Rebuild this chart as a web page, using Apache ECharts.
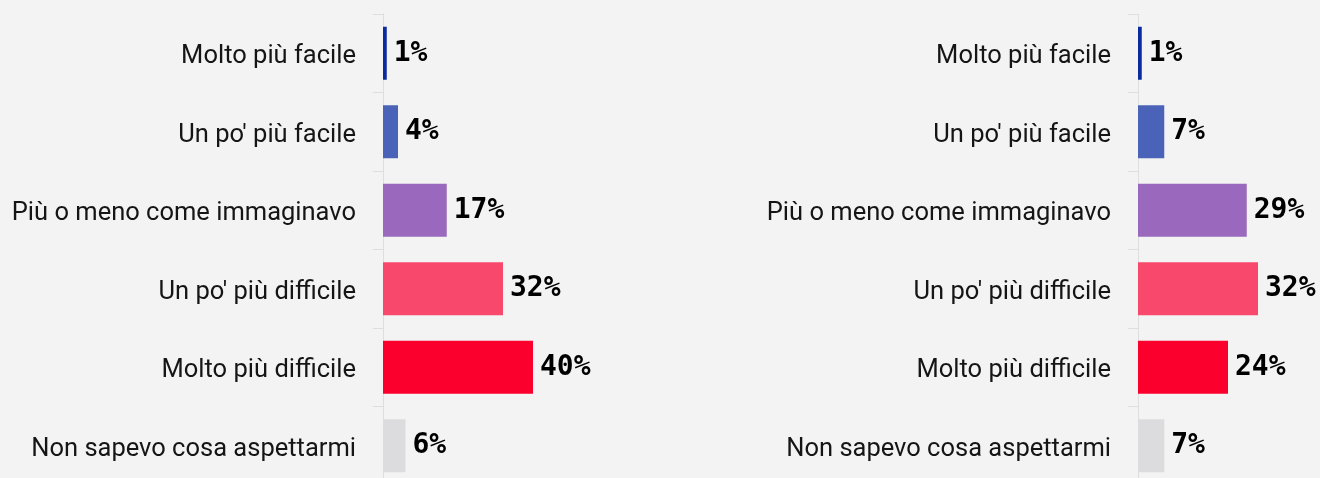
<!DOCTYPE html>
<html>
<head>
<meta charset="utf-8">
<style>
html,body{margin:0;padding:0;background:#f3f3f3;}
#chart{width:1320px;height:478px;}
</style>
<script src="https://cdn.jsdelivr.net/npm/echarts@6/dist/echarts.min.js"></script>
</head>
<body>
<div id="chart"></div>
<script>
var categories = ["Molto più facile", "Un po' più facile", "Più o meno come immaginavo", "Un po' più difficile", "Molto più difficile", "Non sapevo cosa aspettarmi"];
var leftValues = [1, 4, 17, 32, 40, 6];
var rightValues = [1, 7, 29, 32, 24, 7];
var barColors = ["#0a2aa0", "#4a63b8", "#9a68bc", "#f8486b", "#fb002d", "#dcdcdf"];

function items(vals) {
  return vals.map(function (v, i) { return { value: v, itemStyle: { color: barColors[i] } }; });
}
var chart = echarts.init(document.getElementById('chart'), null, { renderer: 'canvas' });
function yAxis(gi) {
  return {
    type: 'category', gridIndex: gi, data: categories, inverse: true,
    axisLine: { show: true, lineStyle: { color: '#dedede', width: 1 } },
    axisTick: { show: true, length: 10, lineStyle: { color: '#dedede' } },
    axisLabel: {
      margin: 27, color: '#151515', fontSize: 25.5, fontFamily: 'Roboto, Liberation Sans, sans-serif',
      formatter: function (v) { return '{t|' + v + '}'; },
      rich: { t: { fontSize: 25.5, fontFamily: 'Roboto, Liberation Sans, sans-serif', color: '#151515', padding: [7, 0, 0, 0] } }
    },
    splitLine: { show: false }
  };
}
function xAxis(gi) {
  return { type: 'value', gridIndex: gi, min: 0, max: 48, show: false, splitLine: { show: false } };
}
function series(gi, vals) {
  return {
    type: 'bar', xAxisIndex: gi, yAxisIndex: gi, data: items(vals), barWidth: 53,
    label: { show: true, position: 'right', distance: 7, formatter: '{c}%', color: '#000',
      fontWeight: 'bold', fontSize: 28, fontFamily: 'DejaVu Sans Mono, monospace' },
    silent: true, animation: false
  };
}
chart.setOption({
  backgroundColor: '#f3f3f3',
  animation: false,
  grid: [
    { left: 383, top: 14, width: 180, height: 471, outerBoundsMode: 'none', containLabel: false },
    { left: 1138, top: 14, width: 180, height: 471, outerBoundsMode: 'none', containLabel: false }
  ],
  xAxis: [xAxis(0), xAxis(1)],
  yAxis: [yAxis(0), yAxis(1)],
  series: [series(0, leftValues), series(1, rightValues)]
});
</script>
</body>
</html>
